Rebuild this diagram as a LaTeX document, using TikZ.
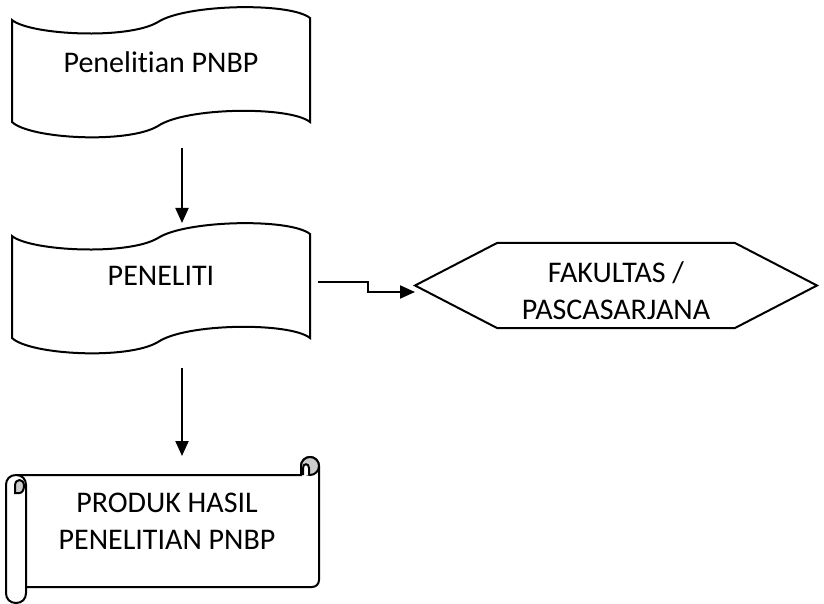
\documentclass[tikz,border=0pt]{standalone}
\usepackage{fontspec}
\setmainfont{Carlito}[Ligatures=NoCommon]
\usetikzlibrary{arrows.meta}
\begin{document}
\begin{tikzpicture}[x=0.5pt, y=-0.5pt, line width=1pt,
                    textstyle/.style={align=center, font=\fontsize{15}{18.5}\selectfont},
                    arrowstyle/.style={-{Triangle[width=6.5pt, length=7.5pt]}}]
  \useasboundingbox (0,0) rectangle (824,604);

  % two wave shapes
  \foreach \dy in {0,216} {
    \draw[shift={(0,\dy)}] (12,20) .. controls (30,35) and (128,40) .. (158,22)
          .. controls (186,4) and (290,2) .. (310,18) -- (310,122)
          .. controls (290,106) and (186,107) .. (158,126)
          .. controls (128,144) and (30,139) .. (12,122) -- cycle;
  }
  \node[textstyle] (penelitian) at (161,62) {Penelitian PNBP};
  \node[textstyle] (peneliti) at (161,276) {PENELITI};

  % hexagon
  \draw (415,285.5) -- (497,243) -- (735,243) -- (817,285.5) -- (735,328) -- (497,328) -- cycle;
  \node[textstyle] (fakultas) at (616,291) {FAKULTAS /\\PASCASARJANA};

  % scroll
  \draw (16,475) -- (301,475) -- (301,466) .. controls (301,461) and (305,457) .. (310,457)
        .. controls (315,457) and (319,461) .. (319,466) -- (319,580)
        .. controls (319,584) and (316,587) .. (312,587) -- (26,587);
  \draw[fill=gray!40] (310,466) circle [radius=4.5pt];
  \draw[fill=white] (303,475) -- (303,468) .. controls (303,463) and (309,463) .. (309,468) -- (309,475);
  \draw[fill=white] (6,485) .. controls (6,479) and (10,475) .. (16,475)
        .. controls (22,475) and (26,479) .. (26,485) -- (26,593)
        .. controls (26,599) and (22,603) .. (16,603)
        .. controls (10,603) and (6,599) .. (6,593) -- cycle;
  \draw[fill=gray!40] (15,493) -- (15,486) .. controls (15,482) and (17,480) .. (19.5,480)
        .. controls (22,480) and (24,482) .. (24,486) .. controls (24,490) and (22,493) .. (19.5,493) -- cycle;
  \node[textstyle] (produk) at (167,521) {PRODUK HASIL\\PENELITIAN PNBP};

  % connectors
  \coordinate (a1) at (182,148);
  \coordinate (a2) at (182,223);
  \coordinate (b1) at (182,368);
  \coordinate (b2) at (182,456);
  \coordinate (c1) at (318,282);
  \coordinate (c2) at (415,292);
  \draw[arrowstyle] (a1) -- (a2);
  \draw[arrowstyle] (b1) -- (b2);
  \draw[arrowstyle] (c1) -- ++(50,0) |- (c2);
\end{tikzpicture}
\end{document}
